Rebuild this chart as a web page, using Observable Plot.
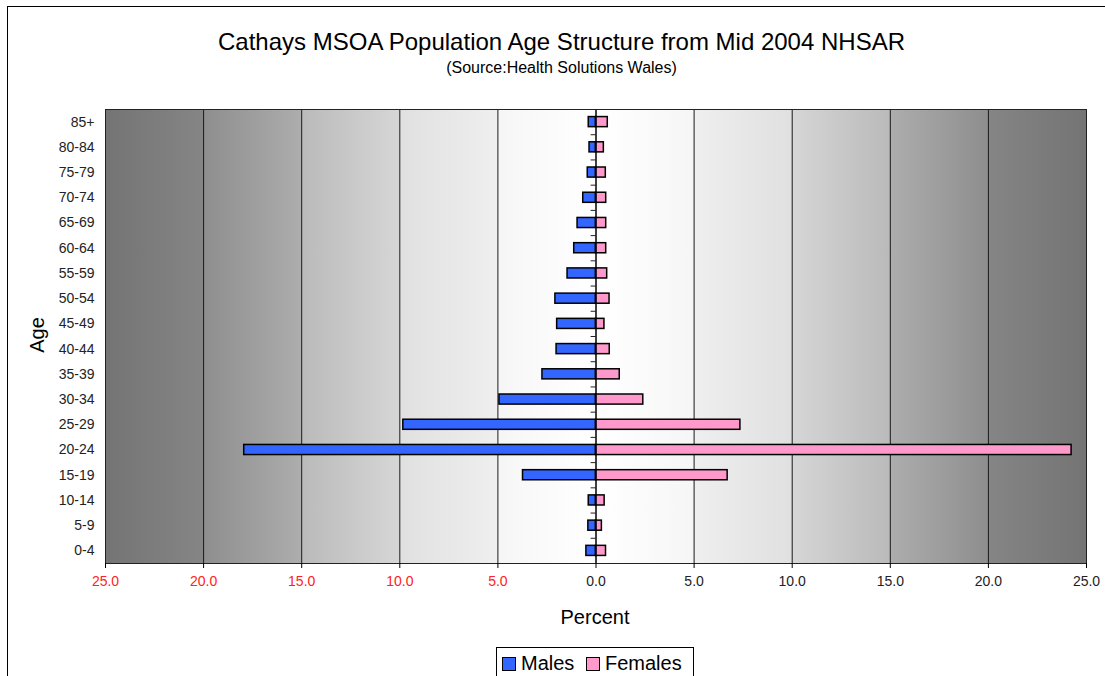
<!DOCTYPE html>
<html>
<head>
<meta charset="utf-8">
<script src="https://cdn.jsdelivr.net/npm/d3@7"></script>
<script src="https://cdn.jsdelivr.net/npm/@observablehq/plot@0.6"></script>
<style>
  html, body { margin: 0; padding: 0; background: #fff; }
  body { font-family: "Liberation Sans", Arial, sans-serif; color: #000; }
  #wrap { position: relative; width: 1105px; height: 676px; overflow: hidden; }
  #border { position: absolute; left: 7px; top: 6px; width: 1300px; height: 900px; border: 1.5px solid #000; box-sizing: border-box; }
  #chart { position: absolute; left: 0; top: 0; }
  .t { position: absolute; white-space: nowrap; line-height: 1; }
  #title { left: 0; width: 1123px; text-align: center; top: 30px; font-size: 24px; }
  #subtitle { left: 0; width: 1123px; text-align: center; top: 59.5px; font-size: 16px; }
  #xlabel { left: 0; width: 1190px; text-align: center; top: 607px; font-size: 20px; }
  #ylabel { left: 37px; top: 335px; font-size: 20px; transform: translate(-50%, -50%) rotate(-90deg); }
  #legend { position: absolute; left: 496px; top: 647px; width: 198px; height: 34px; border: 1.5px solid #000; box-sizing: border-box; background: #fff; }
  .sw { position: absolute; width: 14px; height: 14px; border: 1.5px solid #000; box-sizing: border-box; top: 8.5px; }
  .lt { position: absolute; top: 5px; font-size: 20px; line-height: 1; white-space: nowrap; }
</style>
</head>
<body>
<div id="wrap">
  <div id="border"></div>
  <div id="chart"></div>
  <div class="t" id="title">Cathays MSOA Population Age Structure from Mid 2004 NHSAR</div>
  <div class="t" id="subtitle">(Source:Health Solutions Wales)</div>
  <div class="t" id="xlabel">Percent</div>
  <div class="t" id="ylabel">Age</div>
  <div id="legend">
    <div class="sw" style="left:5px;background:#3366ff"></div>
    <div class="lt" style="left:24px">Males</div>
    <div class="sw" style="left:89px;background:#ff99cc"></div>
    <div class="lt" style="left:108px">Females</div>
  </div>
</div>
<script>
// ---- data ----
const ages = ["0-4","5-9","10-14","15-19","20-24","25-29","30-34","35-39","40-44","45-49","50-54","55-59","60-64","65-69","70-74","75-79","80-84","85+"];
const males = [0.49, 0.39, 0.37, 3.72, 17.93, 9.82, 4.92, 2.73, 2.01, 1.98, 2.07, 1.45, 1.11, 0.94, 0.65, 0.42, 0.33, 0.37];
const females = [0.51, 0.30, 0.44, 6.71, 24.24, 7.36, 2.41, 1.21, 0.70, 0.43, 0.69, 0.57, 0.52, 0.52, 0.52, 0.50, 0.40, 0.60];
const xTicks = [-25, -20, -15, -10, -5, 0, 5, 10, 15, 20, 25];
const gridValues = [-20, -15, -10, -5, 5, 10, 15, 20];

const rows = ages.map((age, i) => ({age, i, male: males[i], female: females[i]}));
const bounds = d3.range(-0.5, ages.length, 1);
const half = 0.2;

const chart = Plot.plot({
  width: 1105,
  height: 600,
  marginTop: 109,
  marginBottom: 37,
  marginLeft: 105,
  marginRight: 19,
  style: {fontFamily: "Liberation Sans, Arial, sans-serif", background: "transparent", overflow: "visible"},
  x: {domain: [-25, 25], axis: null},
  y: {domain: [-0.5, ages.length - 0.5], axis: null},
  marks: [
    Plot.rect([0], {x1: -25, x2: 25, y1: -0.5, y2: ages.length - 0.5, fill: "url(#bgGrad)"}),
    Plot.ruleX(gridValues, {x: d => d, stroke: "#1a1a1a", strokeWidth: 1}),
    Plot.ruleY(bounds, {y: d => d, x1: -0.25, x2: 0, stroke: "#222", strokeWidth: 1}),
    Plot.rect(rows, {x1: 0, x2: d => -d.male, y1: d => d.i - half, y2: d => d.i + half, fill: "#3366ff", stroke: "#000", strokeWidth: 1.5}),
    Plot.rect(rows, {x1: 0, x2: d => d.female, y1: d => d.i - half, y2: d => d.i + half, fill: "#ff99cc", stroke: "#000", strokeWidth: 1.5}),
    Plot.ruleX([0], {x: d => d, stroke: "#000", strokeWidth: 1.5}),
    Plot.frame({stroke: "#222", strokeWidth: 1}),
    Plot.ruleX(xTicks, {x: d => d, y1: -0.5, y2: -0.7, stroke: "#000", strokeWidth: 1}),
    Plot.text(xTicks.filter(d => d < 0), {x: d => d, frameAnchor: "bottom", dy: 22, text: d => Math.abs(d).toFixed(1), fill: "#ff2222", fontSize: 14}),
    Plot.text(xTicks.filter(d => d >= 0), {x: d => d, frameAnchor: "bottom", dy: 22, text: d => d.toFixed(1), fill: "#222", fontSize: 14}),
    Plot.text(rows, {x: -25, y: "i", text: "age", textAnchor: "end", dx: -11, fill: "#222", fontSize: 14})
  ]
});

const svg = d3.select(chart);
const grad = svg.insert("defs", ":first-child")
  .append("linearGradient").attr("id", "bgGrad")
  .attr("x1", "0").attr("x2", "1").attr("y1", "0").attr("y2", "0");
[[0, "#747474"], [0.1, "#858585"], [0.1, "#8e8e8e"], [0.2, "#adadad"], [0.2, "#bababa"],
 [0.3, "#d6d6d6"], [0.3, "#e0e0e0"], [0.4, "#efefef"], [0.4, "#f6f6f6"], [0.5, "#ffffff"],
 [0.6, "#f6f6f6"], [0.6, "#efefef"], [0.7, "#e0e0e0"], [0.7, "#d6d6d6"], [0.8, "#bababa"],
 [0.8, "#adadad"], [0.9, "#8e8e8e"], [0.9, "#858585"], [1, "#747474"]]
  .forEach(([o, c]) => grad.append("stop").attr("offset", o).attr("stop-color", c));

document.getElementById("chart").appendChild(chart);
</script>
</body>
</html>
